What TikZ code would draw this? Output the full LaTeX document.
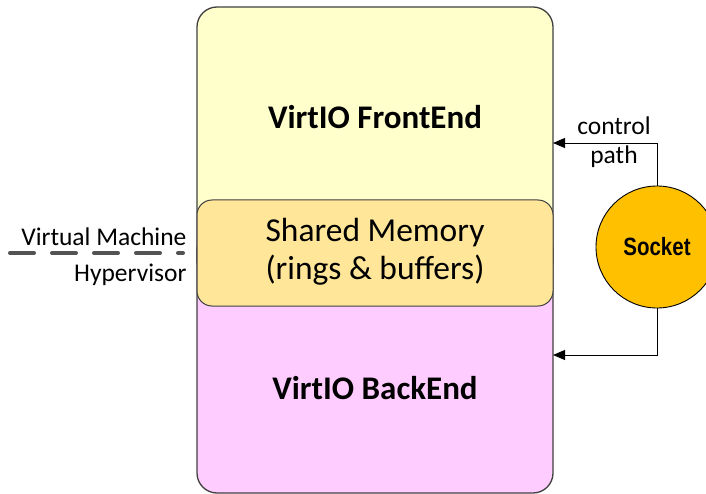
\documentclass[tikz,border=0pt]{standalone}
\usepackage{fontspec}
\usepackage{graphicx}
\setmainfont{Carlito}
\newfontfamily\arialf{Liberation Sans}
\usetikzlibrary{arrows.meta}
\definecolor{feY}{HTML}{FFFFCC}
\definecolor{smY}{HTML}{FFE699}
\definecolor{bePk}{HTML}{FFCCFF}
\definecolor{sockO}{HTML}{FFC000}
\definecolor{edgeG}{HTML}{404040}
\tikzset{
  layerbox/.style={draw=edgeG, line width=1.3pt, rounded corners=20pt},
  ctrl/.style={draw=black, line width=0.9pt, -{Triangle[length=12pt,width=10pt]}},
  sidetext/.style={font=\fontsize{25.5}{28}\selectfont},
}
\begin{document}
\begin{tikzpicture}[x=1pt,y=-1pt]
\useasboundingbox (0,0) rectangle (706,494);
\begin{scope}
\clip (0,0) rectangle (706,494);
% boxes
\path[layerbox, fill=bePk] (197,230) rectangle (553,493);
\path[layerbox, fill=feY] (197,7) rectangle (553,280);
\path[layerbox, fill=smY, rounded corners=15pt, line width=1pt] (197,200) rectangle (553,306);
\node[font=\bfseries\fontsize{33}{36}\selectfont] (fe) at (375,117) {VirtIO FrontEnd};
\node[align=center, font=\fontsize{33.5}{38}\selectfont] (sm) at (375,252) {Shared Memory\\(rings \& buffers)};
\node[font=\bfseries\fontsize{33}{36}\selectfont] (be) at (375,388) {VirtIO BackEnd};
\coordinate (feR) at (553,143);
\coordinate (beR) at (553,355);
% socket
\node[circle, draw=black, line width=0.9pt, fill=sockO, minimum size=122pt, inner sep=0pt,
      font=\arialf\bfseries\fontsize{25}{28}\selectfont] (sock) at (657,247) {\scalebox{0.82}[1]{Socket}};
\draw[ctrl] (sock.north) |- (feR);
\draw[ctrl] (sock.south) |- (beR);
\node[sidetext] (ctl) at (614,126) {control};
\node[sidetext] (pth) at (614,157) {path};
% VM / hypervisor boundary
\coordinate (dL) at (10,253);
\coordinate (dR) at (183,253);
\draw[draw=edgeG!90, line width=4pt, dash pattern=on 24pt off 18pt, line cap=round] (dL) -- (dR);
\node[anchor=east, sidetext] (vm) at (190,237) {Virtual Machine};
\node[anchor=east, sidetext] (hv) at (190,275) {Hypervisor};
\end{scope}
\end{tikzpicture}
\end{document}
